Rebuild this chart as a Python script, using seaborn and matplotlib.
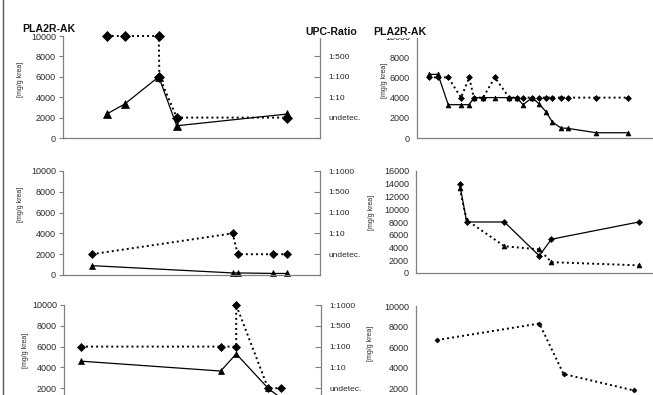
import numpy as np
import matplotlib
matplotlib.use("Agg")
import matplotlib.pyplot as plt
from matplotlib.lines import Line2D
import seaborn as sns

# UPC-ratio categories, from lowest to highest (index = position on the ratio axis)
UPC_LEVELS = ["", "undetec.", "1:10", "1:100", "1:500", "1:1000"]

# Patient 1 (top left)
p1_x_pla = [0.68, 0.96, 1.49, 1.77, 3.49]
p1_pla = [2350, 3330, 6000, 1200, 2350]
p1_x_upc = [0.68, 0.96, 1.49, 1.50, 1.77, 3.49]
p1_upc = ["1:1000", "1:1000", "1:1000", "1:100", "undetec.", "undetec."]

# Patient 2 (middle left)
p2_x_pla = [0.56, 3.30, 3.40, 4.09, 4.36]
p2_pla = [900, 200, 200, 150, 150]
p2_x_upc = [0.56, 3.30, 3.40, 4.09, 4.36]
p2_upc = ["undetec.", "1:10", "undetec.", "undetec.", "undetec."]

# Patient 3 (bottom left)
p3_x_pla = [0.33, 3.05, 3.35, 3.97, 4.36]
p3_pla = [4600, 3650, 5300, 2000, 500]
p3_x_upc = [0.33, 3.05, 3.35, 3.35, 3.97, 4.22]
p3_upc = ["1:100", "1:100", "1:100", "1:1000", "undetec.", "undetec."]

# Patient 4 (top right)
p4_x = [0.23, 0.41, 0.61, 0.86, 1.02, 1.11, 1.29, 1.52, 1.80, 1.95,
        2.07, 2.25, 2.38, 2.52, 2.64, 2.81, 2.95, 3.50, 4.12]
p4_solid = [6300, 6300, 3300, 3300, 3300, 4000, 4000, 4000, 4000, 4000,
            3300, 4000, 3400, 2600, 1600, 1000, 950, 520, 520]
p4_dotted = [6000, 6000, 6000, 4000, 6000, 4000, 4000, 6000, 4000, 4000,
             4000, 4000, 4000, 4000, 4000, 4000, 4000, 4000, 4000]

# Patient 5 (middle right)
p5_x = [1.18, 1.37, 2.39, 3.33, 3.66, 6.02]
p5_solid = [14000, 8000, 8000, 2700, 5300, 8000]
p5_dotted = [13300, 8300, 4200, 3700, 1700, 1200]

# Patient 6 (bottom right)
p6_x = [0.41, 2.40, 2.87, 4.24]
p6_dotted = [6700, 8300, 3400, 1800]

YLABEL = "[mg/g krea]"

sns.set_style("white")
plt.rcParams["font.family"] = ["Liberation Sans", "DejaVu Sans"]

W, H = 653, 395
fig = plt.figure(figsize=(W / 100, H / 100), dpi=100)

GREY = "#808080"
TEXT = "#2a2a2a"
DOT = (0, (1, 1.6))


def px_axes(x0, x1, ytop, ybot):
    return fig.add_axes([x0 / W, 1 - ybot / H, (x1 - x0) / W, (ybot - ytop) / H])


def style_axes(ax, ymax, xmax, label_xy, ymin_label=0):
    ax.set_xlim(0, xmax)
    ax.set_ylim(0, ymax)
    ax.set_xticks(np.arange(0, xmax + 0.01, 1))
    ax.set_xticklabels([])
    yt = np.arange(ymin_label, ymax + 1, 2000)
    ax.set_yticks(yt)
    ax.set_yticklabels([str(int(v)) for v in yt])
    ax.tick_params(axis="both", direction="out", length=3, width=0.8, color=GREY,
                   labelsize=6.5, labelcolor=TEXT, pad=2)
    for s in ("top", "right"):
        ax.spines[s].set_visible(False)
    for s in ("left", "bottom"):
        ax.spines[s].set_color(GREY)
        ax.spines[s].set_linewidth(0.9)
    ax.set_facecolor("none")
    ax.set_ylabel(YLABEL, fontsize=5, color=TEXT)
    ax.yaxis.set_label_coords(*label_xy)


def draw(ax, x, y, dotted, marker, ms):
    sns.lineplot(x=x, y=y, ax=ax, estimator=None, sort=False, legend=False,
                 color="black", linewidth=1.4 if dotted else 0.9,
                 linestyle=DOT if dotted else "-",
                 marker=marker, markersize=ms, markeredgecolor="black",
                 markerfacecolor="black", markeredgewidth=0.5, clip_on=False)


def upc_axis(ax, x, levels, ms):
    tw = ax.twinx()
    tw.set_ylim(0, 5)
    tw.set_yticks(range(len(UPC_LEVELS)))
    tw.set_yticklabels(UPC_LEVELS)
    tw.tick_params(axis="y", direction="in", length=4, width=0.8, color=GREY,
                   labelsize=6, labelcolor=TEXT, pad=6)
    for s in ("top", "left", "bottom"):
        tw.spines[s].set_visible(False)
    tw.spines["right"].set_color(GREY)
    tw.spines["right"].set_linewidth(0.9)
    y = [UPC_LEVELS.index(v) for v in levels]
    draw(tw, x, y, True, "D", ms)
    tw.set_ylabel("")
    return tw


# ---- left column: PLA2R-AK (solid) with UPC-ratio (dotted) ----
ax1 = px_axes(63, 320, 36, 138)
style_axes(ax1, 10000, 4, (-0.152, 0.57))
draw(ax1, p1_x_pla, p1_pla, False, "^", 6)
upc_axis(ax1, p1_x_upc, p1_upc, 4.6)

ax2 = px_axes(63, 320, 171, 275)
style_axes(ax2, 10000, 5, (-0.152, 0.68))
draw(ax2, p2_x_pla, p2_pla, False, "^", 4)
upc_axis(ax2, p2_x_upc, p2_upc, 4)

ax3 = px_axes(64, 321, 305, 409)
style_axes(ax3, 10000, 5, (-0.136, 0.56), ymin_label=2000)
draw(ax3, p3_x_pla, p3_pla, False, "^", 4)
upc_axis(ax3, p3_x_upc, p3_upc, 4)

# ---- right column ----
ax4 = px_axes(417, 673, 37, 138)
style_axes(ax4, 10000, 5, (-0.112, 0.57))
draw(ax4, p4_x, p4_dotted, True, "D", 3)
draw(ax4, p4_x, p4_solid, False, "^", 3.5)

ax5 = px_axes(416, 675, 171, 273)
style_axes(ax5, 16000, 7, (-0.158, 0.59))
draw(ax5, p5_x, p5_dotted, True, "^", 3.5)
draw(ax5, p5_x, p5_solid, False, "D", 3)

ax6 = px_axes(416, 673, 306, 409)
style_axes(ax6, 10000, 5, (-0.163, 0.64), ymin_label=2000)
draw(ax6, p6_x, p6_dotted, True, "D", 2.5)

# ---- headers ----
box = dict(facecolor="white", edgecolor="none", pad=1.0)
fig.text(22 / W, 1 - 28.5 / H, "PLA2R-AK", fontsize=7.6, fontweight="bold",
         color="#111111", ha="left", va="center", zorder=10)
for x, txt in [(305, "UPC-Ratio"), (373, "PLA2R-AK")]:
    fig.text(x / W, 1 - 32 / H, txt, fontsize=7.6, fontweight="bold", color="#111111",
             ha="left", va="center", bbox=box, zorder=10)

# frame edge along the left side
fig.add_artist(Line2D([3 / W, 3 / W], [0, 1], color="#555555", linewidth=1.0))

fig.savefig("out.png", dpi=100)
